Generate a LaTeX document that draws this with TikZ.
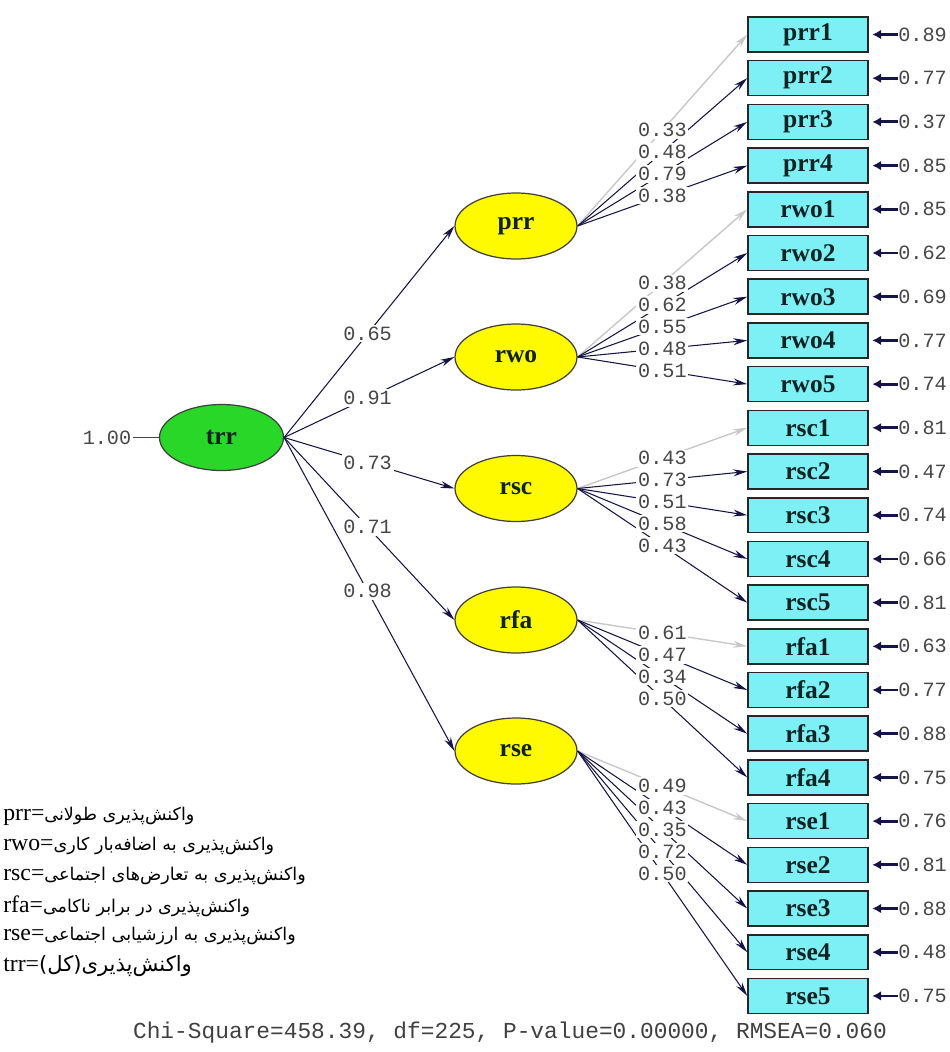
\documentclass[tikz,border=0pt]{standalone}
\usepackage{fontspec}
\setmainfont{Liberation Serif}
\newfontfamily\monofont{Liberation Mono}
\newfontfamily\farsifont[Script=Arabic]{DejaVu Sans}
\TeXXeTstate=1
\usetikzlibrary{shapes.geometric,arrows.meta}
\definecolor{indcyan}{RGB}{125,240,245}
\definecolor{latyellow}{RGB}{255,250,0}
\definecolor{latgreen}{RGB}{40,215,40}
\definecolor{pathnavy}{RGB}{20,20,70}
\definecolor{fixgray}{RGB}{200,200,200}
\definecolor{numgray}{RGB}{70,70,70}
\definecolor{txtdark}{RGB}{15,35,35}
\newcommand{\bx}{808}
\newcommand{\fx}{516}
\newcommand{\loads}{prr/prr1/0.33/fixarr, prr/prr2/0.48/freearr, prr/prr3/0.79/freearr, prr/prr4/0.38/freearr,
  rwo/rwo1/0.38/fixarr, rwo/rwo2/0.62/freearr, rwo/rwo3/0.55/freearr, rwo/rwo4/0.48/freearr, rwo/rwo5/0.51/freearr,
  rsc/rsc1/0.43/fixarr, rsc/rsc2/0.73/freearr, rsc/rsc3/0.51/freearr, rsc/rsc4/0.58/freearr, rsc/rsc5/0.43/freearr,
  rfa/rfa1/0.61/fixarr, rfa/rfa2/0.47/freearr, rfa/rfa3/0.34/freearr, rfa/rfa4/0.50/freearr,
  rse/rse1/0.49/fixarr, rse/rse2/0.43/freearr, rse/rse3/0.35/freearr, rse/rse4/0.72/freearr, rse/rse5/0.50/freearr}

\tikzset{
  latent/.style={ellipse,draw=black!75,line width=0.7pt,fill=latyellow,minimum width=2.44cm,minimum height=1.32cm,
    inner sep=0pt,text=txtdark,font=\bfseries\fontsize{14.5}{16}\selectfont},
  ind/.style={rectangle,draw=black!85,line width=0.9pt,fill=indcyan,minimum width=2.4cm,minimum height=0.7cm,
    inner sep=0pt,text=txtdark,font=\bfseries\fontsize{14.5}{16}\selectfont},
  num/.style={font=\monofont\fontsize{11.5}{13}\selectfont,text=numgray,fill=white,inner sep=1pt},
  errnum/.style={font=\monofont\fontsize{11.5}{13}\selectfont,text=numgray,inner sep=0pt,anchor=west},
  freearr/.style={draw=pathnavy,line width=0.6pt,-{Stealth[length=8pt,width=4pt]}},
  fixarr/.style={draw=fixgray,line width=0.8pt,-{Stealth[length=8pt,width=4pt]}},
  errarr/.style={draw=pathnavy,line width=1.6pt,-{Latex[length=5pt,width=5.5pt]},shorten >=2pt},
  legend/.style={anchor=west,inner sep=0pt,font=\fontsize{13.5}{15}\selectfont}
}

\begin{document}
\begin{tikzpicture}[x=0.02cm,y=-0.02cm]
\useasboundingbox (0,0) rectangle (950,1052);

% latent variables
\node[latent,fill=latgreen,minimum width=2.48cm] (trr) at (221.5,437.5) {trr};
\foreach \f/\y in {prr/226, rwo/357, rsc/488.5, rfa/620, rse/751}
  \node[latent] (\f) at (\fx,\y) {\f};

% observed variables with error variances
\foreach \n/\e [count=\i from 0] in {prr1/0.89, prr2/0.77, prr3/0.37, prr4/0.85,
    rwo1/0.85, rwo2/0.62, rwo3/0.69, rwo4/0.77, rwo5/0.74,
    rsc1/0.81, rsc2/0.47, rsc3/0.74, rsc4/0.66, rsc5/0.81,
    rfa1/0.63, rfa2/0.77, rfa3/0.88, rfa4/0.75,
    rse1/0.76, rse2/0.81, rse3/0.88, rse4/0.48, rse5/0.75}
{
  \node[ind] (\n) at (\bx,{34.5+43.7*\i}) {\n};
  \node[errnum] (e\n) at (898,{34.5+43.7*\i}) {\e};
  \draw[errarr] (e\n.west) -- (\n.east);
}

% second order paths
\foreach \f in {prr,rwo,rsc,rfa,rse}
  \draw[freearr] (trr.east) -- (\f.west);
\foreach \f/\v in {prr/0.65, rwo/0.91, rsc/0.73, rfa/0.71, rse/0.98}
  \path (trr.east) -- (\f.west) node[num,pos=.49] {\v};

% loadings, labels on top
\foreach \f/\n/\v/\s in \loads
  \draw[\s] (\f.east) -- (\n.west);
\foreach \f/\n/\v/\s in \loads
  \path (\f.east) -- (\n.west) node[num,pos=.5] {\v};

\node[num,fill=none] (var) at (107,437.5) {1.00};
\draw[numgray,line width=0.5pt] (var.east) -- (trr.west);

% legend
\foreach \ab/\fs/\fa [count=\k from 0] in {prr/10/{واکنش^^^^200cپذیری طولانی},
    rwo/10/{واکنش^^^^200cپذیری به اضافه^^^^200cبار کاری},
    rsc/10/{واکنش^^^^200cپذیری به تعارض^^^^200cهای اجتماعی},
    rfa/10/{واکنش^^^^200cپذیری در برابر ناکامی},
    rse/10/{واکنش^^^^200cپذیری به ارزشیابی اجتماعی},
    trr/12/{واکنش^^^^200cپذیری(کل)}}
  \node[legend] (leg\ab) at (3,{816+30*\k}) {\ab={\farsifont\fontsize{\fs}{15}\selectfont\beginR\fa\endR}};

\node[font=\monofont\fontsize{13}{15}\selectfont,text=black!75] (fit) at (510,1033)
  {Chi-Square=458.39, df=225, P-value=0.00000, RMSEA=0.060};
\end{tikzpicture}
\end{document}
